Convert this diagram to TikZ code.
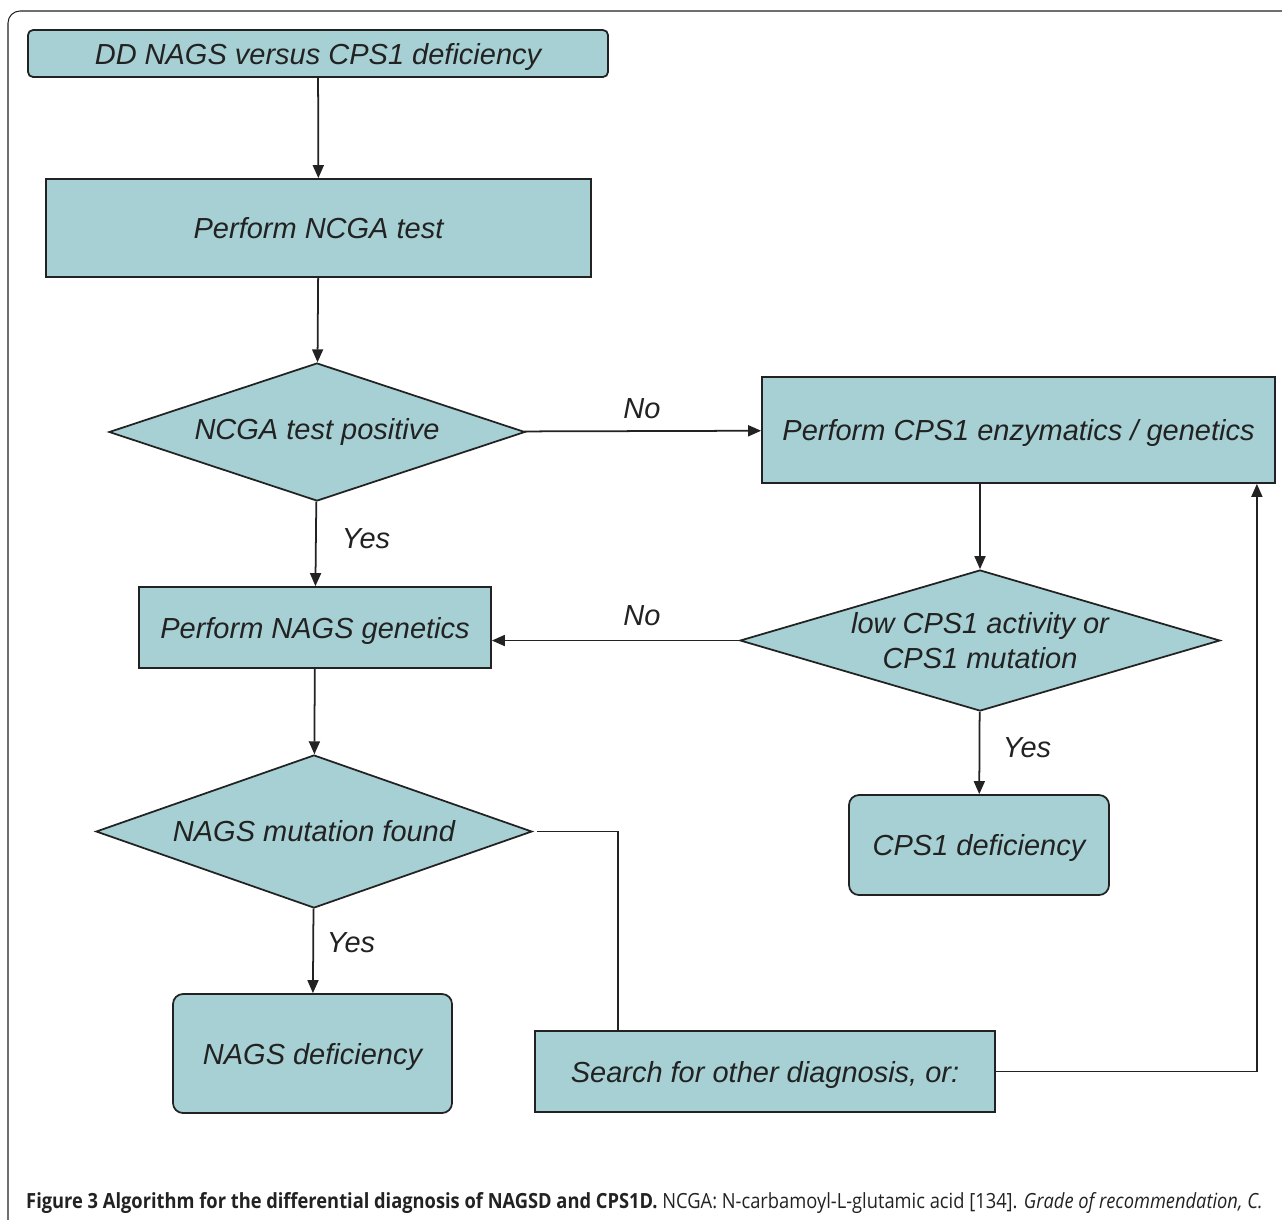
\documentclass[tikz,border=0pt]{standalone}
\usepackage{fontspec}
\setmainfont{Liberation Sans}
\newfontfamily\capfont{Open Sans}[FakeStretch=0.875]
\usetikzlibrary{shapes.geometric,arrows.meta}
\definecolor{boxteal}{RGB}{166,208,211}
\definecolor{inkgray}{RGB}{34,34,34}

\begin{document}
\begin{tikzpicture}[
    every node/.style={text=inkgray,font=\fontsize{16.5}{20}\selectfont\itshape},
    proc/.style={draw=inkgray,line width=1pt,fill=boxteal,inner sep=0pt,text depth=0pt},
    endbox/.style={proc,rounded corners=0.2cm},
    decision/.style={diamond,draw=inkgray,line width=1pt,fill=boxteal,inner sep=0pt,align=center},
    flow/.style={draw=inkgray,line width=1pt,-{Triangle[length=0.26cm,width=0.22cm]}},
    plain/.style={draw=inkgray,line width=1pt}
  ]
  \useasboundingbox (0,0) rectangle (25.64,-24.38);

  \begin{scope}
    \clip (0,0) rectangle (25.64,-24.38);
    \draw[inkgray,line width=0.6pt,rounded corners=0.24cm] (0.16,-0.22) rectangle (26.5,-25);
  \end{scope}

  \node[proc,rounded corners=0.1cm,minimum width=11.6cm,minimum height=0.94cm] (start) at (6.36,-1.07) {DD NAGS versus CPS1 deficiency};
  \node[proc,minimum width=10.9cm,minimum height=1.96cm] (ncga) at (6.37,-4.56) {Perform NCGA test};
  \node[decision,aspect=3,minimum width=8.32cm,minimum height=2.76cm] (ncgapos) at (6.34,-8.64) {NCGA test positive};
  \node[proc,minimum width=10.26cm,minimum height=2.12cm] (cpstest) at (20.37,-8.6) {Perform CPS1 enzymatics / genetics};
  \node[decision,aspect=3.4,minimum width=9.6cm,minimum height=2.82cm] (cpslow) at (19.6,-12.81) {low CPS1 activity or\\CPS1 mutation};
  \node[proc,minimum width=7.04cm,minimum height=1.62cm] (nagsgen) at (6.3,-12.55) {Perform NAGS genetics};
  \node[decision,aspect=2.85,minimum width=8.72cm,minimum height=3.06cm] (nagsmut) at (6.28,-16.63) {NAGS mutation found};
  \node[endbox,minimum width=5.2cm,minimum height=2cm] (cpsdef) at (19.58,-16.9) {CPS1 deficiency};
  \node[endbox,minimum width=5.58cm,minimum height=2.38cm] (nagsdef) at (6.25,-21.07) {NAGS deficiency};
  \node[proc,minimum width=9.2cm,minimum height=1.62cm] (other) at (15.3,-21.43) {Search for other diagnosis, or:};

  \path[flow] (start) -- (ncga);
  \path[flow] (ncga) -- (ncgapos);
  \path[flow] (ncgapos) -- (cpstest);
  \path[flow] (ncgapos) -- (nagsgen);
  \path[flow] (cpslow.north |- cpstest.south) -- (cpslow.north);
  \path[flow] (cpslow.west) -- (cpslow.west -| nagsgen.east);
  \path[flow] (nagsgen) -- (nagsmut);
  \path[flow] (cpslow) -- (cpsdef);
  \path[flow] (nagsmut) -- (nagsdef);
  \path[plain] ([xshift=0.08cm]nagsmut.east) -| ([xshift=1.68cm]other.north west);
  \path[flow] (other.east) -| ([xshift=-0.38cm]cpstest.south east);

  \node (no1) at (12.84,-8.18) {No};
  \node (no2) at (12.84,-12.32) {No};
  \node (yes1) at (7.32,-10.78) {Yes};
  \node (yes2) at (20.54,-14.96) {Yes};
  \node (yes3) at (7.02,-18.86) {Yes};

  \node[anchor=base west,font=\capfont\fontsize{11.9}{14}\selectfont] (caption) at (0.4,-24.16)
    {\textbf{Figure 3 Algorithm for the differential diagnosis of NAGSD and CPS1D.} NCGA: N-carbamoyl-L-glutamic acid [134]. \textit{Grade of recommendation, C.}};
\end{tikzpicture}
\end{document}
